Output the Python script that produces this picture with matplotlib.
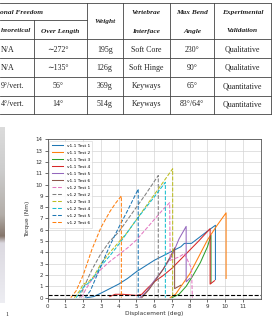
import numpy as np
import matplotlib.pyplot as plt
from matplotlib.lines import Line2D

W, H = 273, 318

# ---- table contents (left columns are cut by the page crop) ----
head_top = ["Vertebrae", "Max Bend", "Experimental"]
head_sub = ["Interface", "Angle", "Validation"]
col_theoretical = ["N/A", "N/A", "9°/vert.", "4°/vert."]
col_over_length = ["∼272°", "∼135°", "56°", "14°"]
col_weight = ["195g", "126g", "369g", "514g"]
col_interface = ["Soft Core", "Soft Hinge", "Keyways", "Keyways"]
col_bend = ["230°", "90°", "65°", "83°/64°"]
col_validation = ["Qualitative", "Qualitative", "Quantitative", "Quantitative"]

# ---- torque curves (deg, Nm) ----
v11_disp = [
    [2.2, 2.6, 3.0, 3.5, 4.0, 4.5, 5.0, 5.5, 6.0, 6.5, 7.0, 7.5, 7.7, 8.1, 8.6, 9.1, 9.45, 9.45],
    [6.9, 7.2, 7.6, 8.0, 8.5, 9.0, 9.5, 10.05, 10.05],
    [7.0, 7.4, 7.8, 8.2, 8.6, 9.0, 9.2, 9.2],
    [3.5, 3.8, 4.2, 4.6, 5.0, 5.3, 5.6, 6.0, 6.5, 7.0, 7.5, 8.0, 8.5, 9.15, 9.15, 9.4],
    [5.2, 5.6, 6.0, 6.5, 7.0, 7.4, 7.8, 7.8, 8.0],
    [5.3, 5.7, 6.1, 6.5, 6.9, 7.15, 7.15, 7.5],
]
v11_torque = [
    [0.0, 0.1, 0.4, 0.8, 1.2, 1.7, 2.3, 2.8, 3.3, 3.7, 4.1, 4.5, 4.8, 4.8, 5.4, 6.0, 6.4, 1.6],
    [0.0, 0.3, 1.2, 2.1, 3.6, 5.1, 6.3, 7.5, 1.7],
    [0.0, 0.3, 1.0, 2.0, 3.1, 4.5, 5.5, 1.3],
    [0.1, 0.3, 0.3, 0.25, 0.2, 0.3, 0.8, 1.4, 1.95, 2.6, 3.4, 4.2, 5.0, 6.1, 1.2, 1.5],
    [0.0, 0.6, 1.5, 2.5, 3.7, 5.2, 6.3, 1.4, 1.7],
    [0.0, 0.7, 1.6, 2.5, 3.6, 4.4, 0.8, 1.1],
]
v12_disp = [
    [1.9, 2.1, 2.4, 3.0, 3.5, 4.0, 4.5, 5.0, 5.5, 6.0, 6.5, 6.87, 6.9, 7.4, 7.7, 8.1, 8.15],
    [1.8, 2.0, 2.5, 3.0, 3.5, 4.0, 4.5, 5.0, 5.5, 6.23, 6.23],
    [1.5, 1.8, 2.0, 2.3, 2.6, 3.0, 3.5, 4.0, 4.5, 5.0, 5.5, 6.0, 6.5, 7.04, 7.04],
    [1.6, 1.8, 2.0, 2.3, 2.6, 3.0, 3.5, 4.0, 4.5, 5.0, 5.5, 6.0, 6.63, 6.63],
    [2.1, 2.4, 2.7, 3.0, 3.5, 4.0, 4.5, 5.1, 5.1],
    [1.3, 1.6, 2.0, 2.5, 3.0, 3.5, 3.8, 4.15, 4.15],
]
v12_torque = [
    [0.0, 0.6, 1.4, 2.5, 3.2, 3.8, 4.4, 5.1, 6.0, 6.9, 7.8, 8.4, 3.3, 3.6, 3.9, 2.6, 0.0],
    [0.0, 0.8, 2.5, 3.9, 5.0, 5.8, 6.9, 8.0, 9.1, 10.8, 0.0],
    [0.0, 0.6, 1.2, 1.4, 1.9, 3.0, 4.0, 4.9, 5.8, 6.9, 8.0, 9.1, 10.2, 11.4, 0.0],
    [0.0, 0.4, 0.9, 1.3, 1.8, 2.8, 3.7, 4.7, 5.8, 6.9, 7.9, 8.9, 10.2, 0.0],
    [0.0, 0.6, 1.7, 2.8, 4.6, 6.2, 7.7, 9.6, 0.0],
    [0.0, 0.6, 2.0, 4.3, 6.2, 7.6, 8.3, 9.0, 0.0],
]
threshold = 0.25
x_ticks = list(range(12))
y_ticks = list(range(15))


def fx(p):
    return p / W


def fy(p):
    return 1 - p / H


fig = plt.figure(figsize=(W / 100, H / 100), dpi=100)

# ---- table (top of page) ----
serif = ["Liberation Serif", "DejaVu Serif"]
tfs = 5.7
lc = "#444444"


def hline(y, x0, x1):
    fig.add_artist(Line2D([fx(x0), fx(x1)], [fy(y), fy(y)], color=lc, lw=0.6))


def vline(x, y0, y1):
    fig.add_artist(Line2D([fx(x), fx(x)], [fy(y0), fy(y1)], color=lc, lw=0.6))


row_lines = [39, 58, 77, 95.5, 113.5]
hline(3, 0, 270.5)
hline(20, 0, 86.7)
for y in row_lines:
    hline(y, 0, 270.5)
vline(34.3, 20, 113.5)
for x in [86.7, 122.7, 170, 214.3, 270.5]:
    vline(x, 3, 113.5)

hdr = dict(family=serif, fontsize=5.3, style="italic", weight="bold",
           va="center", color="#222222")
fig.text(fx(0.5), fy(12.5), "onal Freedom", ha="left", **hdr)
fig.text(fx(0.5), fy(31), "heoretical", ha="left", **hdr)
fig.text(fx(60.5), fy(31), "Over Length", ha="center", **hdr)
fig.text(fx(104.7), fy(21.5), "Weight", ha="center", **hdr)
for cx, t, b in zip([146.3, 192.2, 242.4], head_top, head_sub):
    fig.text(fx(cx), fy(12.5), t, ha="center", **hdr)
    fig.text(fx(cx), fy(31), b, ha="center", **hdr)

cell = dict(family=serif, fontsize=tfs, va="center", color="#222222")
row_y = [49.5, 68, 86.5, 104.5]
for i, y in enumerate(row_y):
    t = col_theoretical[i]
    if t == "N/A":
        fig.text(fx(7.5), fy(y), t, ha="center", **cell)
    else:
        fig.text(fx(0.5), fy(y), t, ha="left", **cell)
    fig.text(fx(58), fy(y), col_over_length[i], ha="center", **cell)
    fig.text(fx(104.7), fy(y), col_weight[i], ha="center", **cell)
    fig.text(fx(146.3), fy(y), col_interface[i], ha="center", **cell)
    fig.text(fx(192.2), fy(y), col_bend[i], ha="center", **cell)
    fig.text(fx(242.4), fy(y), col_validation[i], ha="center", **cell)

# ---- strip of the photo on the left ----
pax = fig.add_axes([0, fy(303), fx(4.5), (303 - 127) / H])
stops = np.array([[0.86, 0.86, 0.86], [0.80, 0.80, 0.80], [0.70, 0.68, 0.66],
                  [0.52, 0.46, 0.42], [0.86, 0.85, 0.88], [0.93, 0.93, 0.95]])
pos = np.array([0.0, 0.25, 0.5, 0.62, 0.66, 1.0])
t = np.linspace(0, 1, 200)
grad = np.stack([np.interp(t, pos, stops[:, k]) for k in range(3)], axis=-1)
pax.imshow(grad[:, None, :], aspect="auto", interpolation="bilinear")
pax.axis("off")
fig.text(fx(5), fy(315), "1", family=serif, fontsize=4.5, va="center", color="#333333")

# ---- torque chart ----
ax = fig.add_axes([fx(47.7), fy(298.8), 213 / W, 159.5 / H])
colors = plt.rcParams["axes.prop_cycle"].by_key()["color"]
for i, (x, y) in enumerate(zip(v11_disp, v11_torque)):
    ax.plot(x, y, "-", lw=0.75, color=colors[i], label=f"v1.1 Test {i + 1}")
for i, (x, y) in enumerate(zip(v12_disp, v12_torque)):
    ax.plot(x, y, "--", lw=0.75, color=colors[(i + 6) % 10], label=f"v1.2 Test {i + 1}")
ax.axhline(threshold, color="k", ls="--", lw=0.8)

ax.set_xlim(0, 12)
ax.set_ylim(-0.1, 14)
ax.set_xticks(x_ticks)
ax.set_yticks(y_ticks)
ax.grid(True, color="#d4d4d4", lw=0.5)
ax.tick_params(labelsize=4, length=2, width=0.5, pad=1.5, colors="#333333")
for s in ax.spines.values():
    s.set_linewidth(0.6)
    s.set_color("#555555")
ax.set_xlabel("Displacement (deg)", fontsize=4.2, labelpad=2, color="#333333")
ax.set_ylabel("Torque (Nm)", fontsize=4.2, labelpad=4, color="#333333")
leg = ax.legend(loc="upper left", fontsize=3.1, handlelength=2.6, labelspacing=0.7,
                borderpad=0.6, borderaxespad=0.4, framealpha=0.85)
leg.get_frame().set_linewidth(0.4)

fig.savefig("out.png", dpi=100)
